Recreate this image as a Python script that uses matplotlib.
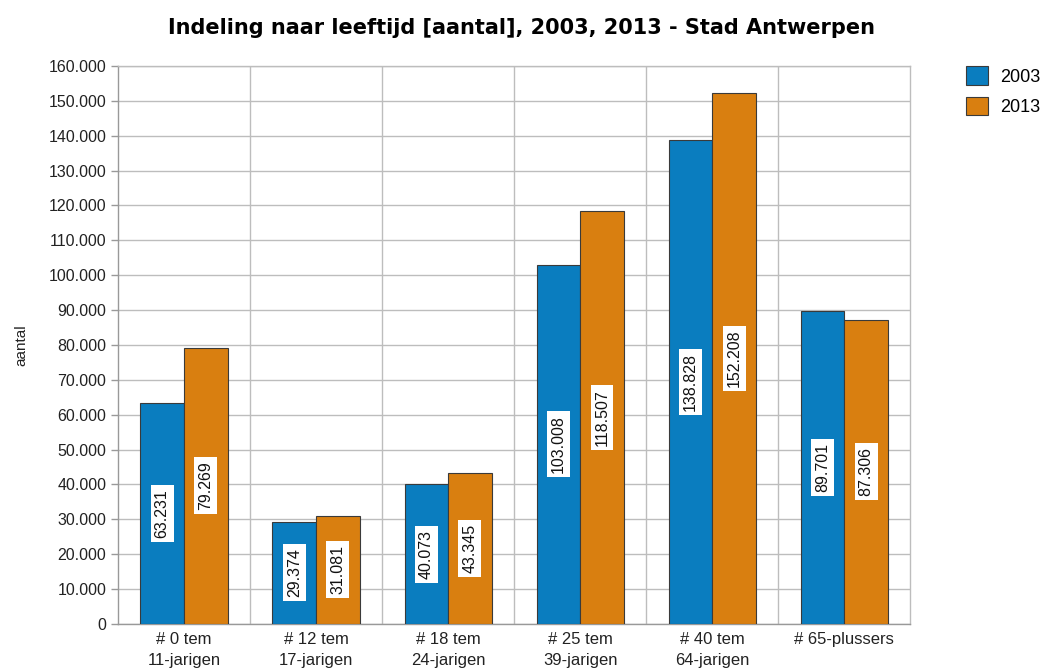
import matplotlib
matplotlib.use("Agg")
import matplotlib.pyplot as plt
import numpy as np
from matplotlib.ticker import FuncFormatter
from matplotlib.patches import Patch

categories = ["# 0 tem\n11-jarigen", "# 12 tem\n17-jarigen", "# 18 tem\n24-jarigen",
              "# 25 tem\n39-jarigen", "# 40 tem\n64-jarigen", "# 65-plussers"]
series_names = ["2003", "2013"]
values_2003 = [63231, 29374, 40073, 103008, 138828, 89701]
values_2013 = [79269, 31081, 43345, 118507, 152208, 87306]
colors = ["#0a7dbf", "#d97f10"]

plt.rcParams['font.family'] = ['Liberation Sans', 'DejaVu Sans']

fig = plt.figure(figsize=(10.44, 6.7), dpi=100)
ax = fig.add_axes([0.113, 0.0687, 0.759, 0.8328])

x = np.arange(len(categories))
w = 0.33
for i, (vals, name) in enumerate(zip([values_2003, values_2013], series_names)):
    pos = x - w / 2 + i * w
    ax.bar(pos, vals, width=w, color=colors[i], edgecolor="#3a3a3a", linewidth=0.8,
           label=name, zorder=3)
    for p, v in zip(pos, vals):
        lab = f"{v:,}".replace(",", ".")
        ax.text(p, v / 2, lab, rotation=90, ha="center", va="center", fontsize=11.5,
                color="#111111", zorder=4,
                bbox=dict(boxstyle="square,pad=0.25", facecolor="white", edgecolor="none"))

ax.set_xlim(-0.5, len(categories) - 0.5)
ax.set_ylim(0, 160000)
ax.set_yticks(np.arange(0, 160001, 10000))
ax.yaxis.set_major_formatter(FuncFormatter(lambda v, _: f"{int(v):,}".replace(",", ".")))
ax.set_xticks(x)
ax.set_xticklabels(categories, fontsize=12, color="#222222", linespacing=1.45)
ax.tick_params(axis="x", length=0, pad=6)
ax.tick_params(axis="y", labelsize=11.5, colors="#999999", length=5, width=1, labelcolor="#222222")
ax.set_xticks(np.arange(0.5, len(categories) - 0.5, 1), minor=True)
ax.tick_params(axis="x", which="minor", length=0)
ax.grid(axis="y", which="major", color="#bdbdbd", linewidth=1, zorder=0)
ax.grid(axis="x", which="minor", color="#bdbdbd", linewidth=1, zorder=0)
ax.grid(axis="x", which="major", visible=False)
for s in ax.spines.values():
    s.set_color("#bdbdbd")
    s.set_linewidth(1)
ax.spines["left"].set_color("#999999")
ax.spines["bottom"].set_color("#999999")

ax.set_ylabel("aantal", fontsize=11, color="#222222", labelpad=14)
fig.text(0.5, 0.958, "Indeling naar leeftijd [aantal], 2003, 2013 - Stad Antwerpen",
         ha="center", va="center", fontsize=15, fontweight="bold", family="DejaVu Sans")

handles = [Patch(facecolor=c, edgecolor="#3a3a3a", linewidth=0.8) for c in colors]
fig.legend(handles, series_names, loc="upper left", bbox_to_anchor=(0.91, 0.925),
           frameon=False, fontsize=13, handlelength=1.2, handleheight=1.2,
           handletextpad=0.7, labelspacing=0.6)

fig.savefig("out.png", dpi=100)
